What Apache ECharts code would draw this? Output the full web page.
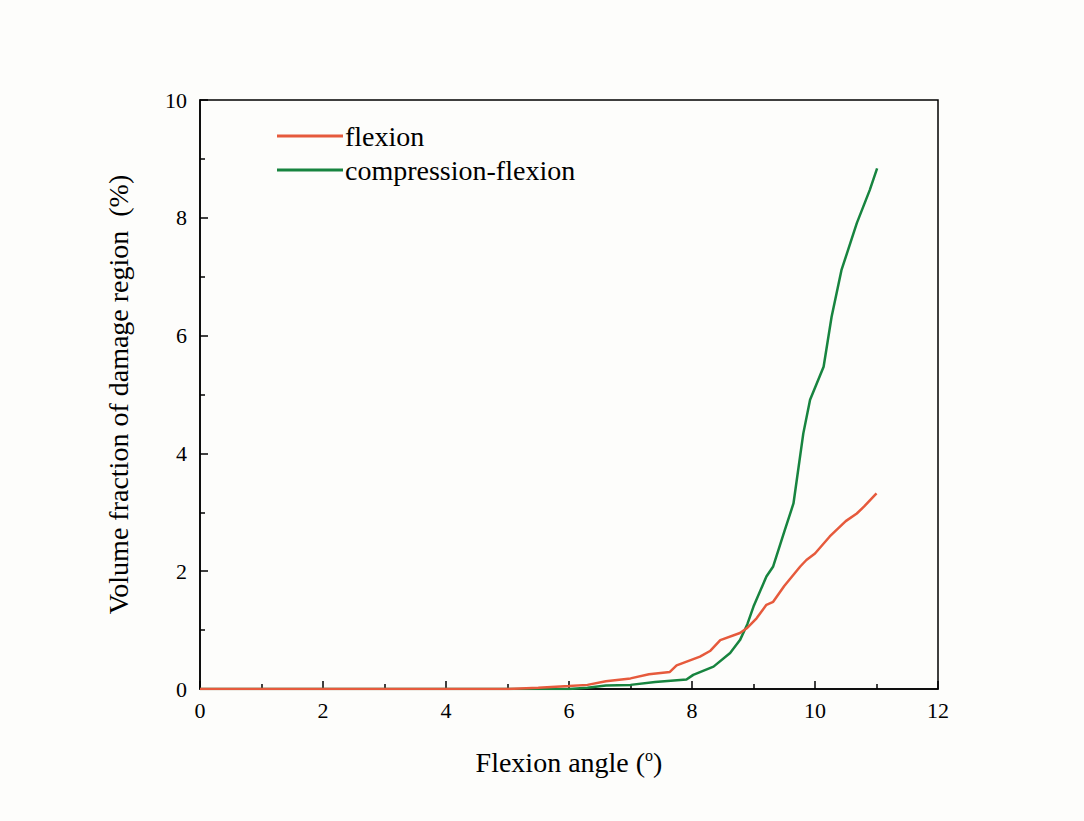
<!DOCTYPE html>
<html>
<head>
<meta charset="utf-8">
<style>
  html, body { margin: 0; padding: 0; background: #fdfdfb; }
  #chart { width: 1084px; height: 821px; }
</style>
<script src="https://cdn.jsdelivr.net/npm/echarts@6/dist/echarts.min.js"></script>
</head>
<body>
<div id="chart"></div>
<script>
var flexionX = [0, 5, 5.5, 6, 6.3, 6.6, 7.0, 7.3, 7.64, 7.75, 8.13, 8.3, 8.46, 8.78, 8.89, 9.05, 9.21, 9.32, 9.5, 9.76, 9.86, 10.0, 10.24, 10.5, 10.68, 10.8, 11.0];
var flexionY = [0, 0, 0.02, 0.05, 0.07, 0.13, 0.18, 0.25, 0.29, 0.4, 0.55, 0.65, 0.83, 0.95, 1.03, 1.2, 1.43, 1.48, 1.75, 2.08, 2.19, 2.3, 2.59, 2.85, 2.98, 3.1, 3.32];

var compX = [0, 6, 6.3, 6.6, 7.0, 7.4, 7.91, 8.02, 8.35, 8.62, 8.78, 8.9, 9.0, 9.21, 9.32, 9.51, 9.65, 9.81, 9.92, 10.14, 10.27, 10.43, 10.68, 10.89, 11.01];
var compY = [0, 0, 0.02, 0.06, 0.07, 0.12, 0.16, 0.24, 0.38, 0.61, 0.83, 1.1, 1.4, 1.91, 2.08, 2.7, 3.15, 4.34, 4.91, 5.47, 6.32, 7.11, 7.91, 8.47, 8.84];

var seriesNames = ['flexion', 'compression-flexion'];
var colors = ['#e65a3c', '#17843f'];
var font = 'Liberation Serif';

function pairs(xs, ys) {
  return xs.map(function(x, i) { return [x, ys[i]]; });
}

var chart = echarts.init(document.getElementById('chart'), null, { renderer: 'svg' });

chart.setOption({
  animation: false,
  backgroundColor: '#fdfdfb',
  color: colors,
  grid: {
    left: 200,
    right: 146,
    top: 100,
    bottom: 132,
    show: true,
    borderColor: '#000',
    borderWidth: 1.5
  },
  legend: {
    orient: 'vertical',
    left: 272,
    top: 117,
    itemWidth: 66,
    itemHeight: 3,
    itemGap: 6,
    icon: 'rect',
    textStyle: { fontFamily: font, fontSize: 28, color: '#000', padding: [0, 0, 0, -3] },
    data: seriesNames
  },
  xAxis: {
    type: 'value',
    min: 0,
    max: 12,
    interval: 2,
    name: 'Flexion angle ({sup|o})',
    nameLocation: 'middle',
    nameGap: 58,
    nameTextStyle: {
      fontFamily: font, fontSize: 28, color: '#000',
      rich: { sup: { fontFamily: font, fontSize: 16, verticalAlign: 'top', padding: [0, 0, 14, 0], color: '#000' } }
    },
    axisLine: { lineStyle: { color: '#000', width: 1.5 } },
    axisTick: { inside: true, length: 8, lineStyle: { color: '#000', width: 1.5 } },
    minorTick: { show: true, splitNumber: 2, length: 5, lineStyle: { color: '#000', width: 1.5 } },
    axisLabel: { fontFamily: font, fontSize: 22, color: '#000', margin: 10 },
    splitLine: { show: false }
  },
  yAxis: {
    type: 'value',
    min: 0,
    max: 10,
    interval: 2,
    name: 'Volume fraction of damage region  (%)',
    nameLocation: 'middle',
    nameGap: 68,
    nameTextStyle: { fontFamily: font, fontSize: 28, color: '#000' },
    axisLine: { lineStyle: { color: '#000', width: 1.5 } },
    axisTick: { inside: true, length: 8, lineStyle: { color: '#000', width: 1.5 } },
    minorTick: { show: true, splitNumber: 2, length: 5, lineStyle: { color: '#000', width: 1.5 } },
    axisLabel: { fontFamily: font, fontSize: 22, color: '#000', margin: 13 },
    splitLine: { show: false }
  },
  series: [
    {
      name: seriesNames[0],
      type: 'line',
      symbol: 'none',
      lineStyle: { width: 2.5, color: colors[0] },
      data: pairs(flexionX, flexionY),
      z: 3
    },
    {
      name: seriesNames[1],
      type: 'line',
      symbol: 'none',
      lineStyle: { width: 2.5, color: colors[1] },
      data: pairs(compX, compY),
      z: 2
    }
  ]
});
</script>
</body>
</html>
